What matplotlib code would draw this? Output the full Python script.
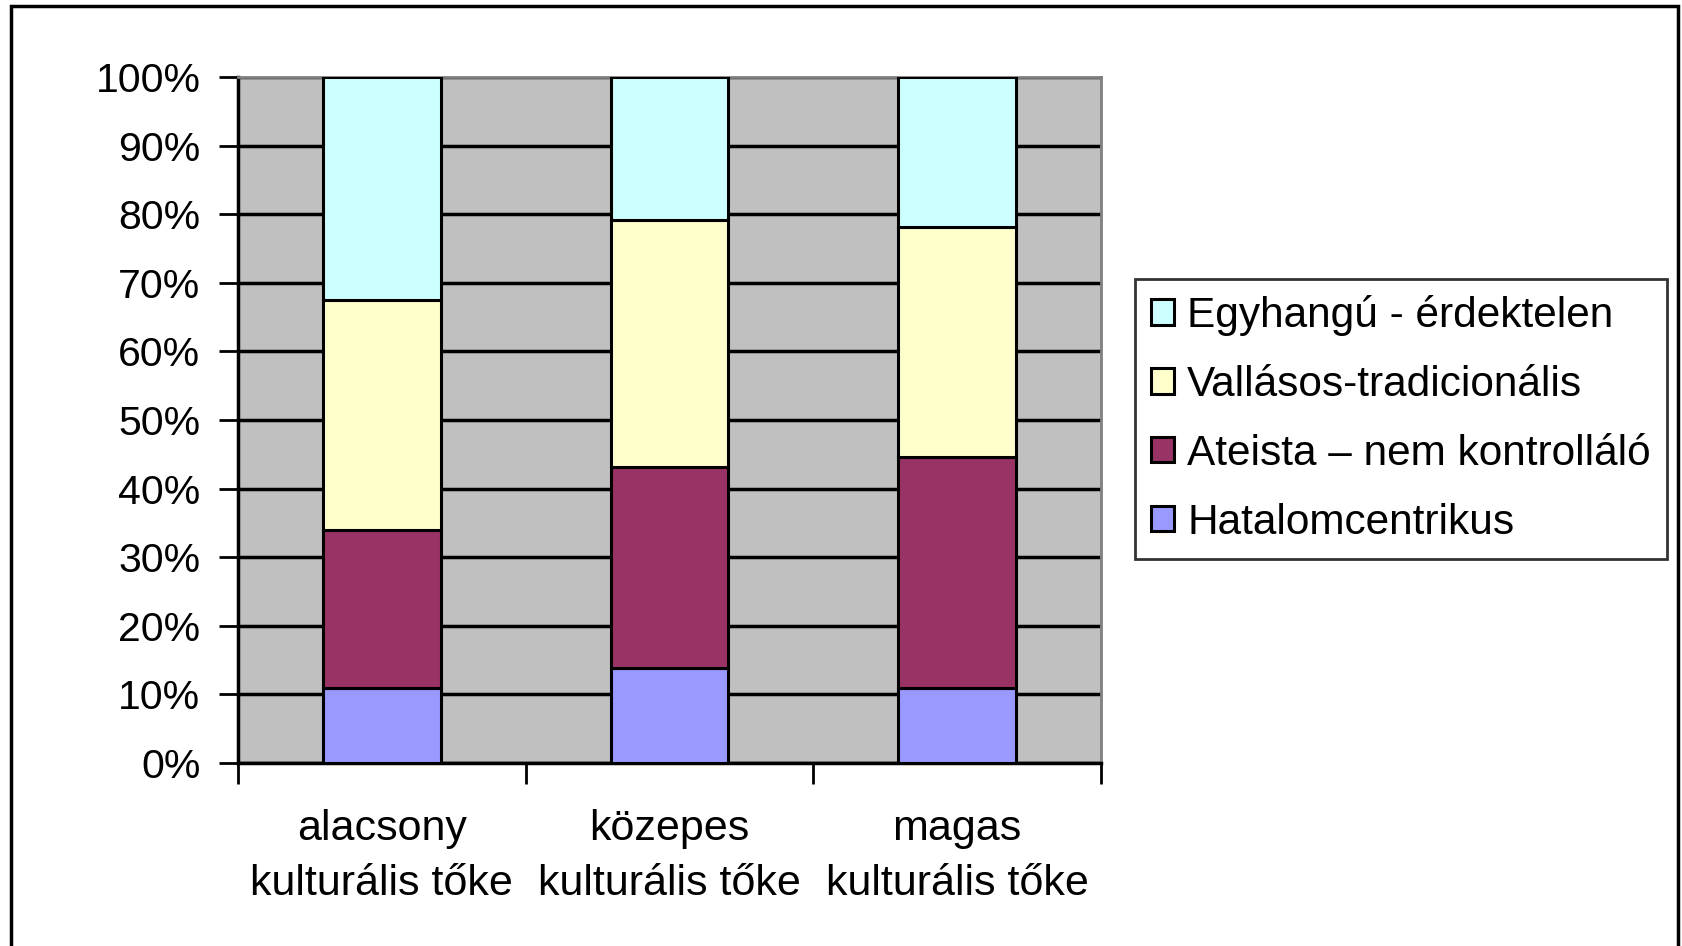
import numpy as np
import matplotlib
matplotlib.use("Agg")
import matplotlib.pyplot as plt
from matplotlib.patches import Rectangle

plt.rcParams['font.family'] = ['Liberation Sans', 'DejaVu Sans']

# data (percent shares)
categories = ["alacsony\nkulturális tőke", "közepes\nkulturális tőke", "magas\nkulturális tőke"]
series_names = ["Hatalomcentrikus", "Ateista – nem kontrolláló",
                "Vallásos-tradicionális", "Egyhangú - érdektelen"]
hatalom = [10.9, 13.8, 10.9]
ateista = [23.1, 29.3, 33.7]
vallasos = [33.5, 36.0, 33.5]
egyhangu = [32.5, 20.9, 21.9]
colors = ["#9999FF", "#993366", "#FFFFCC", "#CCFFFF"]

fig = plt.figure(figsize=(16.83, 9.46), dpi=100)
ax = fig.add_axes([238/1683, 1-763/946, (1101-238)/1683, (763-77)/946])
ax.set_facecolor("#C0C0C0")

# outer chart frame
fig.patches.append(Rectangle((11/1683, -0.1), (1678-11)/1683, 1.1-6/946,
                             transform=fig.transFigure, fill=False,
                             edgecolor="black", linewidth=2.5))

x = np.arange(len(categories))
bottom = np.zeros(len(categories))
bars = []
for vals, name, c in zip([hatalom, ateista, vallasos, egyhangu], series_names, colors):
    b = ax.bar(x, vals, width=0.41, bottom=bottom, color=c, edgecolor="black",
               linewidth=2.2, label=name, zorder=3)
    bars.append(b)
    bottom += np.array(vals)

ax.set_xlim(-0.5, 2.5)
ax.set_ylim(0, 100)
ax.set_yticks(np.arange(0, 101, 10))
ax.set_yticklabels([f"{v}%" for v in range(0, 101, 10)], fontsize=29.5)
ax.yaxis.grid(True, color="black", linewidth=2.5, zorder=1)
ax.set_axisbelow(True)

ax.set_xticks([-0.5, 0.5, 1.5, 2.5])
ax.set_xticklabels([])
ax.set_xticks(x, minor=True)
ax.set_xticklabels(categories, minor=True, fontsize=31, linespacing=1.5)
ax.tick_params(axis="x", which="major", length=15, width=2, direction="out")
ax.tick_params(axis="x", which="minor", length=0, pad=33)
ax.tick_params(axis="y", length=14, width=2, pad=13)

for s in ["left", "bottom"]:
    ax.spines[s].set_color("black")
    ax.spines[s].set_linewidth(2.5)
for s in ["top", "right"]:
    ax.spines[s].set_color("#808080")
    ax.spines[s].set_linewidth(2)

handles = bars[::-1]
labels = series_names[::-1]
leg = fig.legend(handles, labels, loc="upper left", bbox_to_anchor=(1135/1683, 1-279/946),
                 borderaxespad=0, fontsize=30.5, frameon=True, fancybox=False,
                 handlelength=0.55, handleheight=0.55, handletextpad=0.3,
                 labelspacing=0.68, borderpad=0.38)
leg.get_frame().set_edgecolor("black")
leg.get_frame().set_linewidth(2)

fig.savefig("out.png", dpi=100)
